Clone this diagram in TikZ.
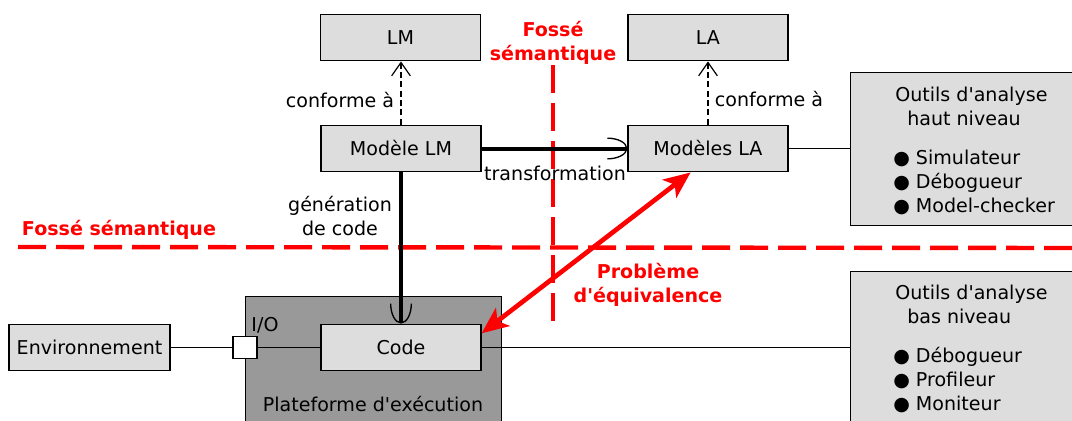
\documentclass[tikz,border=0pt]{standalone}
\usepackage{fontspec}
\setmainfont{DejaVu Sans}
\usetikzlibrary{arrows.meta}
\definecolor{boxgray}{HTML}{DDDDDD}
\definecolor{platgray}{HTML}{999999}
\newcommand{\q}{\textquotesingle}
\tikzset{
  box/.style={rectangle,draw,fill=boxgray,line width=.9pt,minimum width=120pt,minimum height=35pt,inner sep=0pt,font=\fontsize{14.3}{18}\selectfont},
  lbl/.style={inner sep=0pt,align=center,font=\fontsize{14.3}{18}\selectfont},
  gaplbl/.style={lbl,red,font=\fontsize{14.3}{18}\selectfont\bfseries},
  gap/.style={red,line width=3.3pt,dash pattern=on 21pt off 7.5pt},
  wire/.style={line width=.9pt},
  conf/.style={line width=.9pt,dash pattern=on 4.5pt off 2.5pt,-{Straight Barb[length=10pt,width=14pt,line width=.9pt 0]}},
  cup/.style={line width=3pt,-{Arc Barb[length=15pt,width=16.5pt,line width=1pt 0]}},
  equiv/.style={red,line width=3.5pt,{Stealth[length=20pt,width=17pt,inset=5pt]}-{Stealth[length=20pt,width=17pt,inset=5pt]}}
}
\begin{document}
\begin{tikzpicture}[x=.75pt,y=-.75pt]
\useasboundingbox (0,0) rectangle (1072,421);
\draw[gap] (18,247) -- (1072,248);
\draw[gap] (553,65) -- (553,325);

\node[box] (lm) at (400.5,37.5) {LM};
\node[box] (la) at (708,37.5) {LA};
\node[box] (modlm) at (401,148.5) {Modèle LM};
\node[box] (modla) at (708,148.5) {Modèles LA};
\node[box,minimum width=180pt,minimum height=114.75pt,anchor=north west] (high) at (850,72) {};
\node[box,minimum width=180pt,minimum height=120pt,anchor=north west] (low) at (850,271) {};
\node[box,fill=platgray,minimum width=192pt,minimum height=112pt,anchor=north west] (plat) at (245,296) {};
\node[box,minimum width=120.75pt] (env) at (89.5,347.5) {Environnement};
\node[box] (code) at (401,347.5) {Code};
\node[box,fill=white,minimum width=18pt,minimum height=17pt] (io) at (245,347.5) {};

\node[lbl,align=left,anchor=west] (highT) at (895,106) {Outils d\q analyse\\\hspace*{9pt}haut niveau};
\node[lbl,align=left,anchor=west] (highL) at (893,182) {● Simulateur\\● Débogueur\\● Model-checker};
\node[lbl,align=left,anchor=west] (lowT) at (895,304) {Outils d\q analyse\\\hspace*{9pt}bas niveau};
\node[lbl,align=left,anchor=west] (lowL) at (893,380) {● Débogueur\\● Profileur\\● Moniteur};

\draw[wire] (env) -- (io);
\draw[wire] (io) -- (code);
\draw[wire] (code.east) -- (code.east -| low.west);
\draw[wire] (modla.east) -- (modla.east -| high.west);
\draw[conf] (modlm.north) -- (modlm.north |- lm.south);
\draw[conf] (modla.north) -- (la.south);
\draw[cup] (modlm.east) -- (modla.west);
\draw[cup] (modlm.south) -- (code.north);
\draw[equiv] (code.10) -- (modla.234);

\node[lbl] (conf1) at (340,100) {conforme à};
\node[lbl] (conf2) at (769,99) {conforme à};
\node[lbl] (transf) at (555,173) {transformation};
\node[lbl] (gen) at (340,216) {génération\\de code};
\node[gaplbl] (gapH) at (119,230) {Fossé sémantique};
\node[gaplbl] (gapV) at (553,43) {Fossé\\sémantique};
\node[gaplbl] (equivlbl) at (648,285) {Problème\\d\q équivalence};
\node[lbl] (iolbl) at (265,325) {I/O};
\node[lbl] (platlbl) at (373,404) {Plateforme d\q exécution};
\end{tikzpicture}
\end{document}
